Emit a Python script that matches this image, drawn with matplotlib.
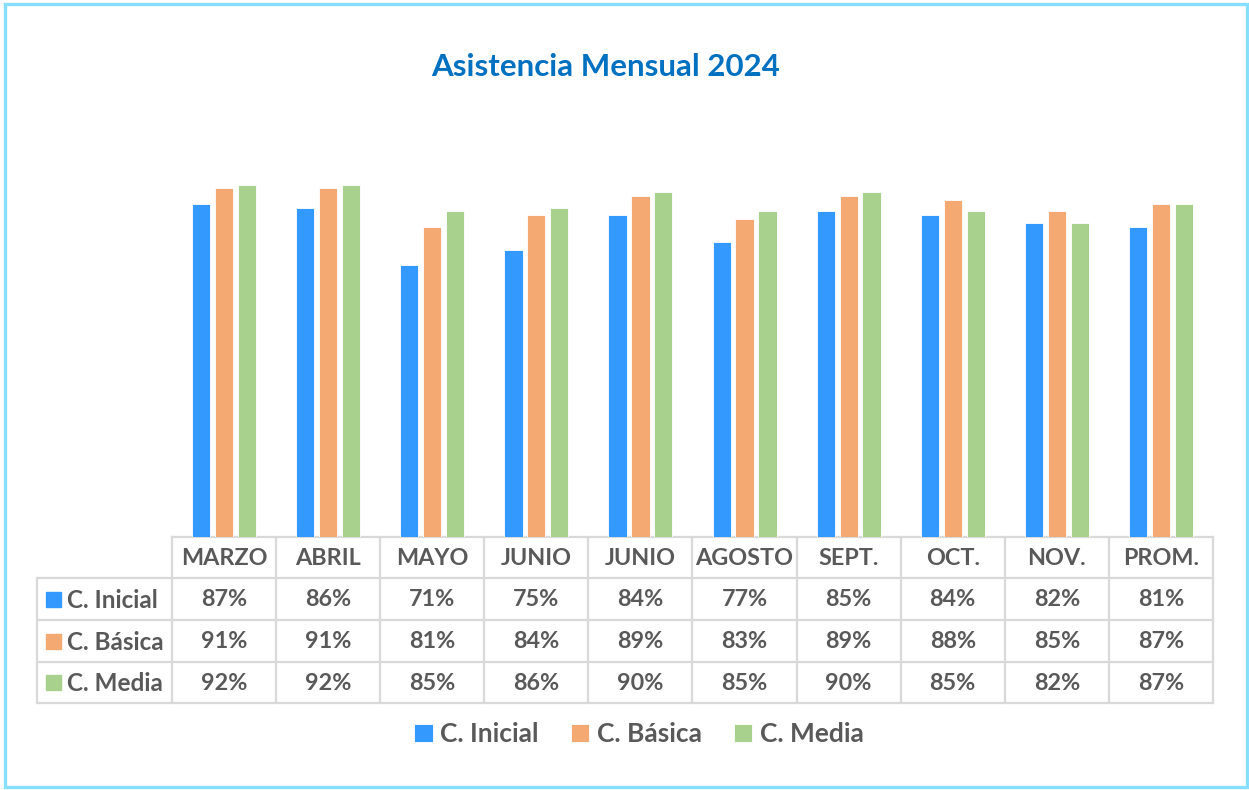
import matplotlib.pyplot as plt
from matplotlib.patches import Rectangle

# data
meses = ["MARZO", "ABRIL", "MAYO", "JUNIO", "JUNIO", "AGOSTO", "SEPT.", "OCT.", "NOV.", "PROM."]
series = ["C. Inicial", "C. Básica", "C. Media"]
inicial = [87, 86, 71, 75, 84, 77, 85, 84, 82, 81]
basica = [91, 91, 81, 84, 89, 83, 89, 88, 85, 87]
media = [92, 92, 85, 86, 90, 85, 90, 85, 82, 87]
colores = ["#3399FF", "#F4A972", "#A9D18E"]

W, H = 1249, 790
fig = plt.figure(figsize=(W / 100, H / 100), dpi=100)
FONT = "Lato"
GRAY = "#595959"
LINE = "#D9D9D9"

def fx(px):
    return px / W

def fy(py):
    return 1 - py / H

# outer border
fig.patches.append(Rectangle((fx(4.5), fy(787)), fx(1246.5 - 4.5), (787 - 3.5) / H,
                             transform=fig.transFigure, fill=False,
                             edgecolor="#87DFFF", linewidth=2.4))

fig.text(fx(606), fy(67), "Asistencia Mensual 2024", ha="center", va="center",
         fontsize=22.5, fontweight="bold", color="#0070C0", family=FONT)

# bar axes
left, right, bottom, top = 172, 1213, 537, 154
ax = fig.add_axes([fx(left), fy(bottom), fx(right - left), (bottom - top) / H])
n = len(meses)
x = list(range(n))
w = 0.175
step = 0.22
for i, (vals, c) in enumerate(zip([inicial, basica, media], colores)):
    ax.bar([xi + (i - 1) * step for xi in x], vals, width=w, color=c,
           edgecolor="white", linewidth=0.6, label=series[i])
ax.set_xlim(-0.5, n - 0.5)
ax.set_ylim(0, 100)
ax.axis("off")

# data table
tab = fig.add_axes([0, 0, 1, 1], zorder=-1)
tab.set_xlim(0, W)
tab.set_ylim(H, 0)
tab.axis("off")
col_w = (right - left) / n
rows_y = [537, 578, 620, 662, 703]
lx = 37
tab.plot([left, right], [rows_y[0], rows_y[0]], color=LINE, lw=1.6)
for y in rows_y[1:]:
    tab.plot([lx, right], [y, y], color=LINE, lw=1.6)
tab.plot([lx, lx], [rows_y[1], rows_y[-1]], color=LINE, lw=1.6)
for j in range(n + 1):
    xx = left + j * col_w
    tab.plot([xx, xx], [rows_y[0], rows_y[-1]], color=LINE, lw=1.6)

fs = 16.8
for j, m in enumerate(meses):
    tab.text(left + (j + 0.5) * col_w, (rows_y[0] + rows_y[1]) / 2 + 1, m,
             ha="center", va="center", fontsize=fs, fontweight="bold", color=GRAY, family=FONT)
for r, (vals, name, c) in enumerate(zip([inicial, basica, media], series, colores)):
    yc = (rows_y[r + 1] + rows_y[r + 2]) / 2
    tab.add_patch(Rectangle((46, yc - 7.5), 15, 15, color=c))
    tab.text(67, yc + 1, name, ha="left", va="center", fontsize=17.5,
             fontweight="bold", color=GRAY, family=FONT)
    for j, v in enumerate(vals):
        tab.text(left + (j + 0.5) * col_w, yc + 1, f"{v}%", ha="center", va="center",
                 fontsize=fs, fontweight="bold", color=GRAY, family=FONT)

handles, labels = ax.get_legend_handles_labels()
leg = fig.legend(handles, labels, loc="center", bbox_to_anchor=(fx(639), fy(734)), ncol=3,
                 frameon=False, handlelength=0.7, handleheight=0.7, handletextpad=0.3,
                 columnspacing=1.2, prop={"family": FONT, "weight": "bold", "size": 19})
for t in leg.get_texts():
    t.set_color(GRAY)

fig.savefig("out.png", dpi=100)
